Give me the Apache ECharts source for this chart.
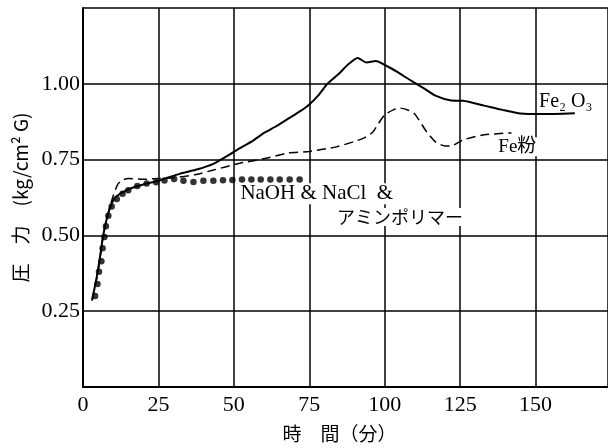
<!DOCTYPE html>
<html>
<head>
<meta charset="utf-8">
<script src="https://cdn.jsdelivr.net/npm/echarts@6/dist/echarts.min.js"></script>
<style>
  html, body { margin: 0; padding: 0; background: #fff; }
  #chart { width: 608px; height: 448px; }
</style>
</head>
<body>
<div id="chart"></div>
<script>
// 時間(分), 圧力(kg/cm2 G)
var fe2o3 = [[3,0.285],[4.5,0.36],[5.5,0.42],[6.7,0.50],[8,0.56],[9.5,0.605],[11,0.628],[15,0.652],[20,0.668],[25,0.68],[28,0.69],[32,0.703],[38,0.718],[43,0.735],[48,0.763],[52,0.788],[56,0.81],[60,0.838],[64,0.86],[68,0.885],[72,0.91],[75,0.932],[78,0.962],[81,1.0],[85,1.035],[88,1.065],[91,1.085],[94,1.07],[97,1.075],[101,1.057],[104,1.04],[108,1.015],[113,0.985],[117,0.96],[122,0.945],[126,0.944],[133,0.928],[139,0.914],[145,0.902],[152,0.90],[163,0.903]];
var fePowder = [[3,0.29],[5,0.38],[6.7,0.5],[8.5,0.58],[10,0.63],[11.5,0.668],[13,0.682],[15,0.688],[20,0.685],[25,0.688],[30,0.69],[37,0.70],[43,0.715],[52,0.738],[61,0.755],[68,0.772],[75,0.777],[84,0.792],[90,0.81],[93,0.821],[96,0.84],[98,0.87],[100,0.898],[103,0.915],[105,0.92],[108,0.912],[110,0.9],[114,0.84],[117,0.807],[120,0.795],[122,0.795],[126,0.815],[133,0.832],[142,0.838]];
var naohDots = [[4,0.30],[4.8,0.34],[5.3,0.38],[6.1,0.415],[6.5,0.458],[7.1,0.495],[7.6,0.53],[8.4,0.565],[9.5,0.595],[11.2,0.62],[13.1,0.637],[15,0.649],[18,0.663],[21.1,0.671],[24.2,0.675],[27,0.681],[30.2,0.686],[33.3,0.68],[36.6,0.676],[39.9,0.68],[43.2,0.68],[46.4,0.682],[49.5,0.683],[52.7,0.684],[55.8,0.684],[58.9,0.684],[62.1,0.684],[65.2,0.684],[68.5,0.684],[71.8,0.684]];

// ラベル [text, x, y, fontSize, fontFamily]
var labels = [
  ['Fe₂ O₃', 150.5, 0.94, 20, 'Liberation Serif'],
  ['Fe粉', 137, 0.792, 19, 'Liberation Serif, Noto Sans CJK JP'],
  ['NaOH & NaCl  &', 51.5, 0.637, 21, 'Liberation Serif'],
  ['アミンポリマー', 83.5, 0.561, 18, 'Noto Sans CJK JP']
];

var serif = 'Liberation Serif';
var chart = echarts.init(document.getElementById('chart'));
var option = {
  backgroundColor: '#fff',
  animation: false,
  grid: { left: 83, top: 8, right: 0, bottom: 60 },
  xAxis: {
    type: 'value',
    min: 0, max: 174, interval: 25,
    name: '時　間（分）',
    nameLocation: 'middle',
    nameGap: 37,
    nameTextStyle: { fontFamily: 'Noto Sans CJK JP', fontSize: 19, color: '#000', padding: [0, 12, 0, 0] },
    axisLine: { lineStyle: { color: '#000', width: 2 } },
    axisTick: { show: false },
    axisLabel: { showMaxLabel: false, margin: 7, fontFamily: serif, fontSize: 22, color: '#000' },
    splitLine: { lineStyle: { color: '#000', width: 1.5 } }
  },
  yAxis: {
    type: 'value',
    min: 0, max: 1.25, interval: 0.25,
    name: '圧　力　(kg/cm² G)',
    nameLocation: 'middle',
    nameGap: 51,
    nameTextStyle: { fontFamily: 'Noto Sans CJK JP', fontSize: 19, color: '#000' },
    axisLine: { show: true, lineStyle: { color: '#000', width: 2 } },
    axisTick: { show: false },
    axisLabel: {
      showMinLabel: false, showMaxLabel: false, margin: 3,
      fontFamily: serif, fontSize: 22, color: '#000',
      formatter: function (v) { return v.toFixed(2); }
    },
    splitLine: { lineStyle: { color: '#000', width: 1.5 } }
  },
  series: [
    {
      name: 'Fe2O3', type: 'line', data: fe2o3, smooth: 0.2,
      symbol: 'none', lineStyle: { color: '#000', width: 2 }, z: 3
    },
    {
      name: 'Fe粉', type: 'line', data: fePowder, smooth: 0.2,
      symbol: 'none', lineStyle: { color: '#000', width: 1.5, type: [9, 5] }, z: 3
    },
    {
      name: 'NaOH', type: 'scatter', data: naohDots,
      symbolSize: 6.5, itemStyle: { color: '#000' }, z: 4
    }
  ]
};
chart.setOption(option);

var g = labels.map(function (l) {
  var p = chart.convertToPixel({ gridIndex: 0 }, [l[1], l[2]]);
  return {
    type: 'text', x: p[0], y: p[1], z: 10,
    style: {
      text: l[0], fontFamily: l[4], fontSize: l[3], fill: '#000',
      align: 'left', verticalAlign: 'middle',
      backgroundColor: '#fff', padding: [0, 2]
    }
  };
});
chart.setOption({ graphic: g });
</script>
</body>
</html>
